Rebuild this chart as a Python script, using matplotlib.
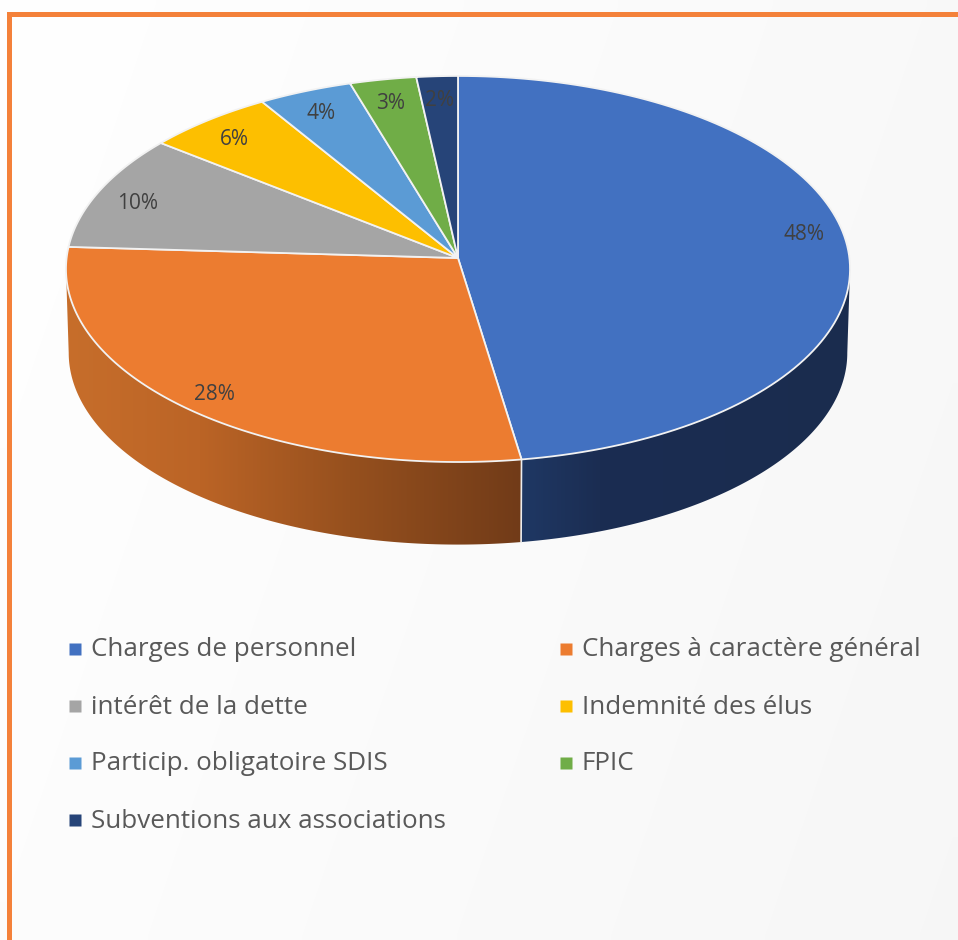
import numpy as np
import matplotlib
matplotlib.use('Agg')
import matplotlib.pyplot as plt
from matplotlib.patches import Polygon

categories = ['Charges de personnel', 'Charges à caractère général', 'intérêt de la dette',
              'Indemnité des élus', 'Particip. obligatoire SDIS', 'FPIC', 'Subventions aux associations']
shares = [47.6, 28.4, 9.7, 5.6, 4.1, 2.9, 1.8]
colors = ['#4271C1', '#EC7C30', '#A5A5A5', '#FDBF00', '#5B9BD5', '#70AD47', '#264478']

plt.rcParams['font.family'] = ['Open Sans', 'DejaVu Sans']

# pie geometry in pixels, the pie is tilted so the far side looks smaller
CX, CY = 458, 258
R, A, K = 391.4, 192.4, 0.0569
DEPTH = 84
# angle where the tilted rim is widest, the wall outline runs straight down from there
WIDEST = np.arccos(-K)


def project(theta, r=1.0, down=0, scale=1.0):
    """Clockwise angle from 12 o'clock (radians) to picture coordinates."""
    u = r * np.sin(theta)
    v = r * np.cos(theta)
    w = 1 + K * v
    return CX + scale * R * u / w, CY + down - scale * A * v / w


def side_wall(ax, start, stop, stops_x, stops_rgb):
    """Outer wall of the pie between two angles, shaded from left to right."""
    th = np.linspace(start, stop, 200)
    x1, y1 = project(th)
    x2, y2 = project(th, down=DEPTH, scale=0.993)
    pts = np.column_stack([np.r_[x1, x2[::-1]], np.r_[y1, y2[::-1]]])
    xs = np.arange(0, 958)
    grad = np.stack([np.interp(xs, stops_x, [c[i] for c in stops_rgb]) for i in range(3)], axis=-1) / 255
    im = ax.imshow(grad[None, :, :], extent=(0, 958, 600, 200), aspect='auto', zorder=2, interpolation='bilinear')
    im.set_clip_path(Polygon(pts, closed=True, transform=ax.transData))


fig = plt.figure(figsize=(9.58, 9.4), dpi=100)
ax = fig.add_axes([0, 0, 1, 1])

# faint background wash
gx, gy = np.meshgrid(np.linspace(0, 1, 96), np.linspace(0, 1, 94))
ax.imshow(0.996 - 0.024 * gx - 0.008 * gy, extent=(0, 958, 940, 0), cmap='gray', vmin=0, vmax=1,
          aspect='auto', zorder=0, interpolation='bilinear')

# orange frame, top and left only
ax.fill([7, 958, 958, 12, 12, 7], [12, 12, 17, 17, 940, 940], color='#F4813A', lw=0, zorder=1)

edges = np.r_[0, np.cumsum(shares)] / sum(shares) * 2 * np.pi

side_wall(ax, edges[1], 2 * np.pi - WIDEST,
          [66, 200, 350, 521], [(199, 110, 43), (187, 100, 38), (150, 80, 30), (113, 59, 24)])
side_wall(ax, WIDEST, edges[1],
          [521, 600, 850], [(31, 56, 100), (27, 45, 82), (26, 44, 78)])

x1, y1 = project(edges[1])
x2, y2 = project(edges[1], down=DEPTH, scale=0.993)
ax.plot([x1, x2], [y1, y2], color='#EDEDED', lw=1.2, zorder=3)

# top face
for i, c in enumerate(colors):
    th = np.linspace(edges[i], edges[i + 1], 120)
    x, y = project(th)
    ax.fill(np.r_[CX, x], np.r_[CY, y], facecolor=c, edgecolor='#F2F2F2', lw=1.3, zorder=4, joinstyle='round')

# percent labels, the biggest slice sits a bit higher than the rest
for i, s in enumerate(shares):
    mid = (edges[i] + edges[i + 1]) / 2
    lx, ly = project(mid, r=0.89)
    ly += -10 if i == 0 else 5
    ax.text(lx, ly, f'{round(s / sum(shares) * 100)}%', ha='center', va='center',
            fontsize=15, color='#404040', zorder=5)

# legend, two columns
for i, (name, c) in enumerate(zip(categories, colors)):
    col, row = i % 2, i // 2
    ly = 649 + 57 * row
    sx = 75 + 491 * col
    ax.plot(sx, ly, marker='s', ms=8.3, mec='none', color=c, zorder=5)
    ax.text(sx + 16, ly + 1, name, ha='left', va='center', fontsize=18.7, color='#595959', zorder=5)

ax.set_xlim(0, 958)
ax.set_ylim(940, 0)
ax.axis('off')
fig.savefig('out.png', dpi=100)
